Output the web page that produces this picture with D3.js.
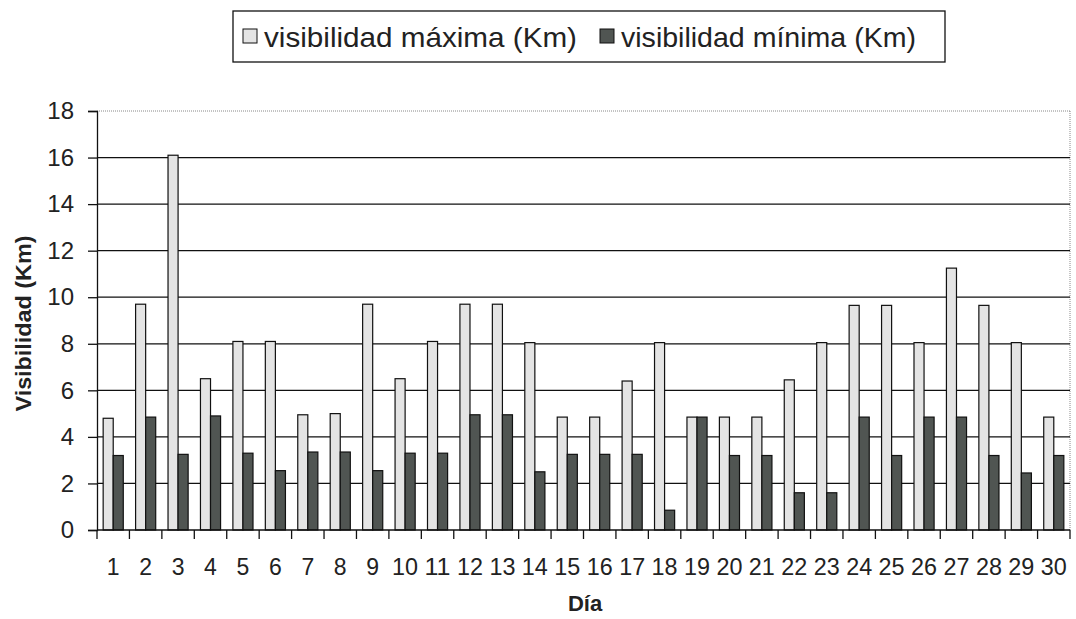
<!DOCTYPE html>
<html>
<head>
<meta charset="utf-8">
<script src="https://cdn.jsdelivr.net/npm/d3@7"></script>
<style>
  body { margin: 0; background: #fff; }
  svg text { font-family: "Liberation Sans", Arial, sans-serif; fill: #222; }
</style>
</head>
<body>
<div id="chart"></div>
<script>
const days = d3.range(1, 31).map(String);
const visMax = [4.8, 9.7, 16.1, 6.5, 8.1, 8.1, 4.95, 5.0, 9.7, 6.5,
  8.1, 9.7, 9.7, 8.05, 4.85, 4.85, 6.4, 8.05, 4.85, 4.85,
  4.85, 6.45, 8.05, 9.65, 9.65, 8.05, 11.25, 9.65, 8.05, 4.85];
const visMin = [3.2, 4.85, 3.25, 4.9, 3.3, 2.55, 3.35, 3.35, 2.55, 3.3,
  3.3, 4.95, 4.95, 2.5, 3.25, 3.25, 3.25, 0.85, 4.85, 3.2,
  3.2, 1.6, 1.6, 4.85, 3.2, 4.85, 4.85, 3.2, 2.45, 3.2];
const seriesNames = ['visibilidad máxima (Km)', 'visibilidad mínima (Km)'];
const seriesColors = ['#e4e4e4', '#505552'];
const yTicks = [0, 2, 4, 6, 8, 10, 12, 14, 16, 18];

const W = 1076, H = 619;
const margin = { top: 111, right: 6, bottom: 89, left: 97 };
const width = W - margin.left - margin.right;
const height = H - margin.top - margin.bottom;

const svg = d3.select('#chart').append('svg')
  .attr('width', W)
  .attr('height', H);

const g = svg.append('g')
  .attr('transform', `translate(${margin.left},${margin.top})`);

const x0 = d3.scaleBand().domain(days).range([0, width])
  .paddingInner(0.38).paddingOuter(0.19);
const x1 = d3.scaleBand().domain([0, 1]).range([0, x0.bandwidth()]);
const y = d3.scaleLinear().domain([0, 18]).range([height, 0]);

// plot frame (dotted top/right like the original)
g.append('line').attr('x1', 0).attr('x2', width).attr('y1', 0).attr('y2', 0)
  .attr('stroke', '#888').attr('stroke-dasharray', '1,1');
g.append('line').attr('x1', width).attr('x2', width).attr('y1', 0).attr('y2', height)
  .attr('stroke', '#888').attr('stroke-dasharray', '1,1');

// gridlines
g.append('g')
  .selectAll('line')
  .data(yTicks.filter(d => d > 0 && d < 18))
  .join('line')
  .attr('x1', 0).attr('x2', width)
  .attr('y1', d => y(d)).attr('y2', d => y(d))
  .attr('stroke', '#111').attr('stroke-width', 1.3);

// bars
const data = days.map((d, i) => ({ day: d, vals: [visMax[i], visMin[i]] }));
g.append('g')
  .selectAll('g')
  .data(data)
  .join('g')
  .attr('transform', d => `translate(${x0(d.day)},0)`)
  .selectAll('rect')
  .data(d => d.vals.map((v, k) => ({ k, v })))
  .join('rect')
  .attr('x', d => x1(d.k))
  .attr('y', d => y(d.v))
  .attr('width', x1.bandwidth())
  .attr('height', d => height - y(d.v))
  .attr('fill', d => seriesColors[d.k])
  .attr('stroke', '#111')
  .attr('stroke-width', 1.2);

// y axis
const yAxis = g.append('g')
  .call(d3.axisLeft(y).tickValues(yTicks).tickSize(9).tickPadding(14));
yAxis.select('.domain').attr('stroke', '#111').attr('stroke-width', 1.3);
yAxis.selectAll('.tick line').attr('stroke', '#111').attr('stroke-width', 1.3);
yAxis.selectAll('.tick text').attr('font-size', 24).style('fill', '#222');

// x axis: ticks at category boundaries, labels centered
const xAxisG = g.append('g').attr('transform', `translate(0,${height})`);
xAxisG.append('line').attr('x1', 0).attr('x2', width)
  .attr('stroke', '#111').attr('stroke-width', 1.3);
const step = x0.step();
xAxisG.selectAll('line.tk')
  .data(d3.range(days.length + 1))
  .join('line')
  .attr('class', 'tk')
  .attr('x1', i => i * step).attr('x2', i => i * step)
  .attr('y1', 0).attr('y2', 9)
  .attr('stroke', '#111').attr('stroke-width', 1.3);
xAxisG.selectAll('text')
  .data(days)
  .join('text')
  .attr('x', d => x0(d) + x0.bandwidth() / 2)
  .attr('y', 45)
  .attr('text-anchor', 'middle')
  .attr('font-size', 23)
  .attr('textLength', d => d.length > 1 ? 26 : null)
  .attr('lengthAdjust', 'spacingAndGlyphs')
  .text(d => d);

// axis titles
svg.append('text')
  .attr('transform', `translate(31,${margin.top + height / 2 + 3}) rotate(-90)`)
  .attr('text-anchor', 'middle')
  .attr('font-size', 22)
  .attr('font-weight', 'bold')
  .attr('textLength', 176)
  .attr('lengthAdjust', 'spacingAndGlyphs')
  .text('Visibilidad (Km)');

svg.append('text')
  .attr('x', 585)
  .attr('y', 611)
  .attr('text-anchor', 'middle')
  .attr('font-size', 22)
  .attr('font-weight', 'bold')
  .text('Día');

// legend
const legend = svg.append('g').attr('transform', 'translate(233,11)');
legend.append('rect')
  .attr('width', 712).attr('height', 51)
  .attr('fill', '#fff').attr('stroke', '#111').attr('stroke-width', 1.3);
const legendX = [10, 367];
const legendLen = [313, 295];
const items = legend.selectAll('g')
  .data(seriesNames)
  .join('g')
  .attr('transform', (d, i) => `translate(${legendX[i]},26)`);
items.append('rect')
  .attr('x', 0).attr('y', -8).attr('width', 14).attr('height', 14)
  .attr('fill', (d, i) => seriesColors[i])
  .attr('stroke', '#111').attr('stroke-width', 1);
items.append('text')
  .attr('x', 21).attr('y', 10)
  .attr('font-size', 28)
  .attr('textLength', (d, i) => legendLen[i])
  .attr('lengthAdjust', 'spacingAndGlyphs')
  .text(d => d);
</script>
</body>
</html>
